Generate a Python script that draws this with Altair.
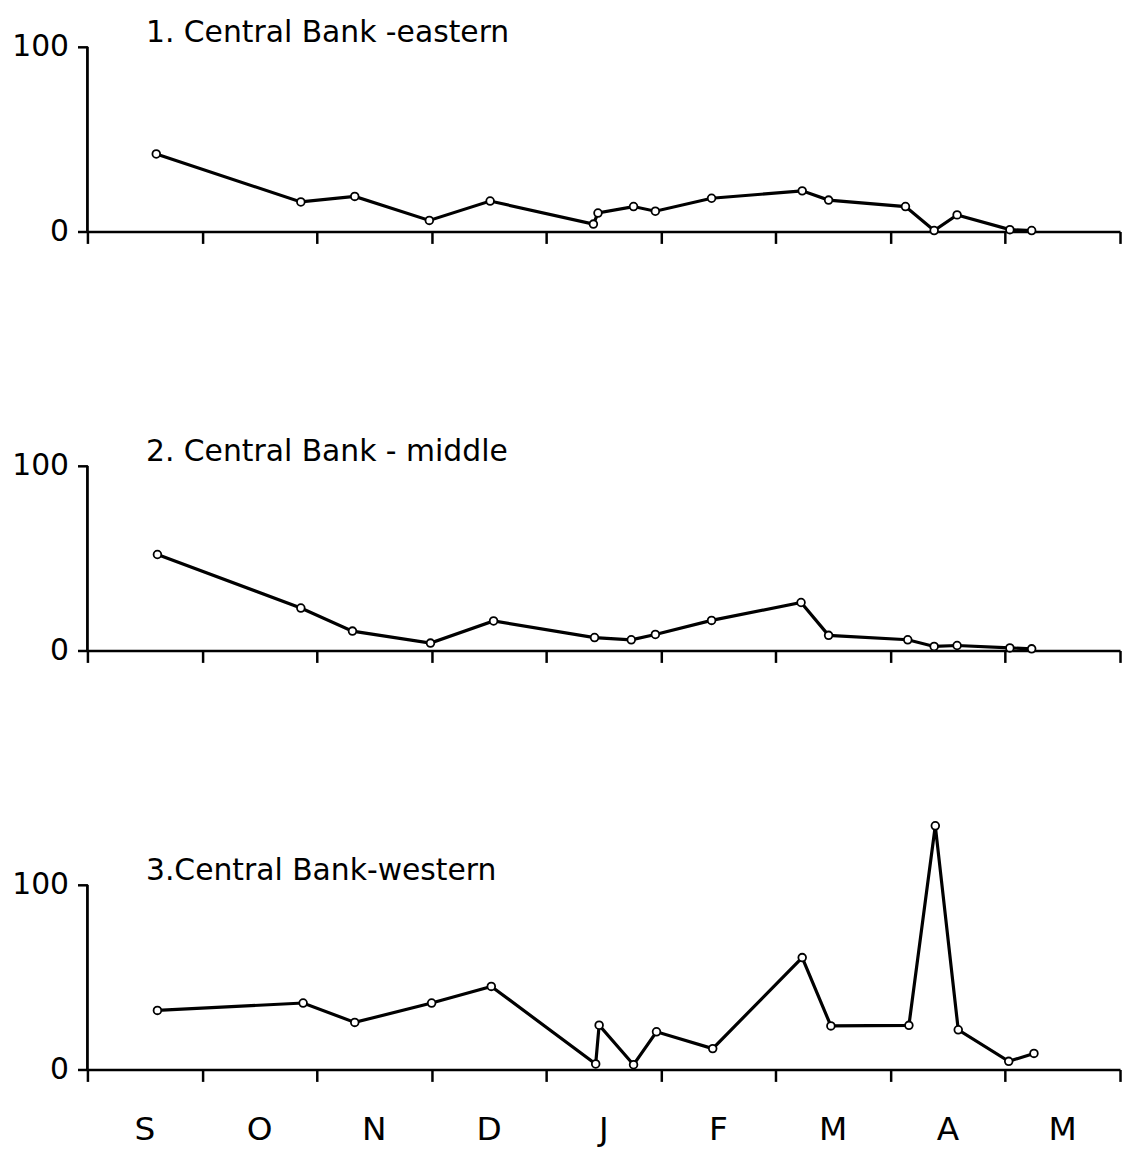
import altair as alt
import pandas as pd

# month labels (Sep .. May), ticks at month boundaries
months = ["S", "O", "N", "D", "J", "F", "M", "A", "M"]
month_ticks = [0, 1, 2, 3, 4, 5, 6, 7, 8, 9]
y_ticks = [0, 100]

titles = ["1. Central Bank -eastern", "2. Central Bank - middle", "3.Central Bank-western"]

# positions in months since 1 September
east_x = [0.60, 1.86, 2.33, 2.98, 3.51, 4.41, 4.45, 4.76, 4.95, 5.44, 6.23, 6.46, 7.13, 7.38, 7.58, 8.04, 8.23]
east_y = [42, 16, 19, 6, 16.5, 4, 10, 13.5, 11, 18, 22, 17, 13.5, 0.5, 9, 1, 0.5]

mid_x = [0.61, 1.86, 2.31, 2.99, 3.54, 4.42, 4.74, 4.95, 5.44, 6.22, 6.46, 7.15, 7.38, 7.58, 8.04, 8.23]
mid_y = [52, 23, 10.5, 4, 16, 7, 5.8, 8.7, 16.3, 26, 8.2, 5.8, 2.2, 2.7, 1.4, 0.9]

west_x = [0.61, 1.88, 2.33, 3.00, 3.52, 4.43, 4.46, 4.76, 4.96, 5.45, 6.23, 6.48, 7.16, 7.39, 7.59, 8.03, 8.25]
west_y = [32, 36, 25.5, 36, 45, 3, 24, 2.6, 20.4, 11.3, 60.6, 23.6, 23.9, 132, 21.5, 4.4, 8.7]

FONT = "DejaVu Sans"
W = 1040
UNIT = 1.86  # pixels per percent


def panel(xs, ys, title, ymax, show_months):
    h = round(ymax * UNIT)
    xenc = alt.X(
        "m:Q",
        scale=alt.Scale(domain=[0, 9], nice=False, zero=False),
        axis=alt.Axis(values=month_ticks, labels=False, title=None, grid=False,
                      tickSize=12, tickWidth=2.5, domainWidth=2.5,
                      domainColor="black", tickColor="black"),
    )
    yenc = alt.Y(
        "v:Q",
        scale=alt.Scale(domain=[0, ymax], nice=False),
        axis=alt.Axis(values=y_ticks, domain=False, title=None, grid=False,
                      tickSize=10, tickWidth=2.5, tickColor="black",
                      labelFontSize=30, labelFont=FONT, labelColor="black",
                      labelPadding=9),
    )
    df = pd.DataFrame({"m": xs, "v": ys})
    base = alt.Chart(df).encode(x=xenc, y=yenc)
    line = base.mark_line(color="black", strokeWidth=3.2)
    pts = base.mark_point(shape="circle", filled=True, fill="white",
                          stroke="black", strokeWidth=1.8, size=60, opacity=1)
    yaxis = alt.Chart(pd.DataFrame({"m": [0], "v": [0], "v2": [y_ticks[-1]]})).mark_rule(
        color="black", strokeWidth=2.8
    ).encode(x=xenc, y=yenc, y2="v2:Q")
    ttl = alt.Chart(pd.DataFrame({"m": [0.51], "v": [100], "t": [title]})).mark_text(
        align="left", baseline="alphabetic", dy=-5, fontSize=30, font=FONT, color="black"
    ).encode(x=xenc, y=yenc, text="t:N")
    layers = [yaxis, line, pts, ttl]
    if show_months:
        mdf = pd.DataFrame({"m": [i + 0.5 for i in range(len(months))],
                            "v": [0] * len(months), "t": months})
        mtxt = alt.Chart(mdf).mark_text(
            baseline="middle", align="center", dy=61, fontSize=33, font=FONT, color="black"
        ).encode(x=xenc, y=yenc, text="t:N")
        layers.append(mtxt)
    return alt.layer(*layers).properties(width=W, height=h)


p1 = panel(east_x, east_y, titles[0], 100, False)
p2 = panel(mid_x, mid_y, titles[1], 135, False)
p3 = panel(west_x, west_y, titles[2], 135, True)

chart = alt.vconcat(p1, p2, p3, spacing=171, bounds="flush").properties(
    padding={"left": 3, "top": 6, "right": 0, "bottom": 0},
    background="white",
).configure_view(stroke=None)

chart.save("out.html", embed_options={"renderer": "svg", "actions": False})
